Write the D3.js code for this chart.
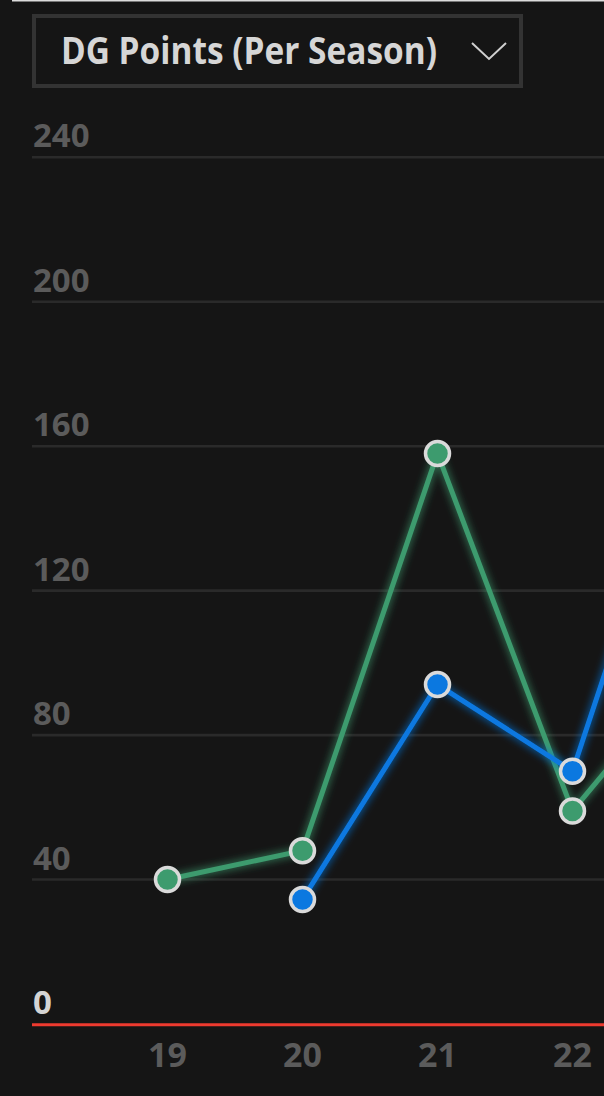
<!DOCTYPE html>
<html>
<head>
<meta charset="utf-8">
<script src="https://cdn.jsdelivr.net/npm/d3@7"></script>
<style>
  html, body { margin: 0; padding: 0; background: #151515; overflow: hidden; }
  svg { display: block; }
</style>
</head>
<body>
<div id="chart"></div>
<script>
// ---- data ----
const seasons = [19, 20, 21, 22, 23];
const greenSeries = [40, 48, 158, 59, 104];
const blueSeries = [null, 34.5, 94, 70, 183];
const yTicks = [0, 40, 80, 120, 160, 200, 240];
const xTicks = [19, 20, 21, 22];
const title = "DG Points (Per Season)";

const W = 604, H = 1096;
const svg = d3.select("#chart").append("svg")
  .attr("width", W).attr("height", H)
  .style("background", "#151515");

const defs = svg.append("defs");
const glow = defs.append("filter").attr("id", "glow")
  .attr("x", "-20%").attr("y", "-20%").attr("width", "140%").attr("height", "140%");
glow.append("feGaussianBlur").attr("in", "SourceGraphic").attr("stdDeviation", 4).attr("result", "blur");
const merge = glow.append("feMerge");
merge.append("feMergeNode").attr("in", "blur");
merge.append("feMergeNode").attr("in", "SourceGraphic");

// top thin line
svg.append("rect").attr("x", 12).attr("y", 0).attr("width", W - 12).attr("height", 1.5).attr("fill", "#dcdcdc");

// dropdown box
svg.append("rect").attr("x", 34).attr("y", 16).attr("width", 487).attr("height", 70)
  .attr("fill", "none").attr("stroke", "#333333").attr("stroke-width", 4);
svg.append("text").attr("x", 61).attr("y", 64)
  .attr("font-family", "'Open Sans', sans-serif").attr("font-weight", 700)
  .attr("font-size", 37).attr("fill", "#d6d6d6")
  .attr("textLength", 376).attr("lengthAdjust", "spacingAndGlyphs")
  .text(title);
svg.append("path").attr("d", "M472,43 L489,59 L506,43")
  .attr("fill", "none").attr("stroke", "#cfcfcf").attr("stroke-width", 2);

// scales
const x = d3.scaleLinear().domain([18, 23]).range([32.5, 707.5]);
const y = d3.scaleLinear().domain([0, 240]).range([1024, 157.3]);

// grid lines
const grid = svg.append("g");
grid.selectAll("line").data(yTicks.filter(d => d !== 0)).join("line")
  .attr("x1", 32).attr("x2", W)
  .attr("y1", d => y(d)).attr("y2", d => y(d))
  .attr("stroke", "#2a2a2a").attr("stroke-width", 2.6);

// y labels
svg.append("g").selectAll("text").data(yTicks).join("text")
  .attr("x", 33).attr("y", d => y(d) - 10)
  .attr("font-family", "'Open Sans', sans-serif").attr("font-weight", 700)
  .attr("font-size", 33)
  .attr("fill", d => d === 0 ? "#d4d4d4" : "#5b5b5b")
  .text(d => d);

// baseline red
svg.append("line").attr("x1", 32).attr("x2", W)
  .attr("y1", y(0) + 0.8).attr("y2", y(0) + 0.8)
  .attr("stroke", "#ee3a2f").attr("stroke-width", 3);

// x labels
svg.append("g").selectAll("text").data(xTicks).join("text")
  .attr("x", d => x(d)).attr("y", 1067)
  .attr("text-anchor", "middle")
  .attr("font-family", "'Open Sans', sans-serif").attr("font-weight", 700)
  .attr("font-size", 34).attr("fill", "#5b5b5b")
  .text(d => d);

// series
const series = [
  { name: "green", values: greenSeries, color: "#3d9b6e" },
  { name: "blue", values: blueSeries, color: "#0b78e0" }
];
const line = d3.line()
  .defined(d => d.v !== null)
  .x(d => x(d.s)).y(d => y(d.v));

series.forEach(s => {
  const pts = seasons.map((sv, i) => ({ s: sv, v: s.values[i] }));
  svg.append("path").datum(pts)
    .attr("d", line)
    .attr("fill", "none").attr("stroke", s.color).attr("stroke-width", 5)
    .attr("stroke-linejoin", "round")
    .attr("filter", "url(#glow)");
});
series.forEach(s => {
  const pts = seasons.map((sv, i) => ({ s: sv, v: s.values[i] })).filter(d => d.v !== null);
  svg.append("g").selectAll("circle").data(pts).join("circle")
    .attr("cx", d => x(d.s)).attr("cy", d => y(d.v))
    .attr("r", 12)
    .attr("fill", s.color).attr("stroke", "#dadada").attr("stroke-width", 3.5);
});
</script>
</body>
</html>
